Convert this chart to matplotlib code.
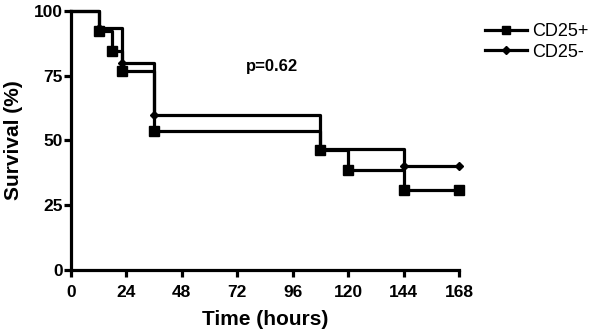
import matplotlib
matplotlib.use("Agg")
import matplotlib.pyplot as plt

plt.rcParams['font.family'] = ['Liberation Sans', 'DejaVu Sans']

# Kaplan-Meier step data
pos_times = [0, 12, 18, 22, 36, 108, 120, 144, 168]
pos_surv = [100, 92.3, 84.6, 76.9, 53.8, 46.2, 38.5, 30.8, 30.8]
pos_mark_t = [12, 18, 22, 36, 108, 120, 144, 168]
pos_mark_s = [92.3, 84.6, 76.9, 53.8, 46.2, 38.5, 30.8, 30.8]

neg_times = [0, 12, 22, 36, 108, 144, 168]
neg_surv = [100, 93.3, 80, 60, 46.7, 40, 40]
neg_mark_t = [12, 22, 36, 108, 144, 168]
neg_mark_s = [93.3, 80, 60, 46.7, 40, 40]

xticks = [0, 24, 48, 72, 96, 120, 144, 168]
yticks = [0, 25, 50, 75, 100]

fig = plt.figure(figsize=(6, 3.34), dpi=100)
ax = fig.add_axes([0.118, 0.192, 0.647, 0.775])

lw = 2.3
ax.step(pos_times, pos_surv, where='post', color='black', lw=lw, clip_on=False, zorder=3)
ax.plot(pos_mark_t, pos_mark_s, ls='none', marker='s', ms=7, color='black', clip_on=False, zorder=4)
ax.step(neg_times, neg_surv, where='post', color='black', lw=lw, clip_on=False, zorder=3)
ax.plot(neg_mark_t, neg_mark_s, ls='none', marker='D', ms=4.5, color='black', clip_on=False, zorder=4)

# legend handles
ax.plot([], [], color='black', lw=lw, marker='s', ms=6, label='CD25+')
ax.plot([], [], color='black', lw=lw, marker='D', ms=4, label='CD25-')
leg = ax.legend(loc='upper left', bbox_to_anchor=(1.049, 0.982), frameon=False,
                fontsize=13, handlelength=2.3, handletextpad=0.3, labelspacing=0.2,
                borderaxespad=0)

ax.set_xlim(0, 168)
ax.set_ylim(0, 100)
ax.set_xticks(xticks)
ax.set_yticks(yticks)
for s in ['top', 'right']:
    ax.spines[s].set_visible(False)
for s in ['left', 'bottom']:
    ax.spines[s].set_linewidth(2.3)
ax.tick_params(direction='out', length=4.8, width=2.3, labelsize=12.5)
ax.tick_params(axis='x', pad=6)
ax.tick_params(axis='y', pad=0.8)
for lab in ax.get_xticklabels() + ax.get_yticklabels():
    lab.set_fontweight('bold')

ax.set_xlabel('Time (hours)', fontsize=15, fontweight='bold', labelpad=7)
ax.set_ylabel('Survival (%)', fontsize=15, fontweight='bold', labelpad=8)

ax.text(87, 78.4, 'p=0.62', fontsize=12, fontweight='bold', ha='center', va='center')

fig.savefig('out.png', dpi=100)
